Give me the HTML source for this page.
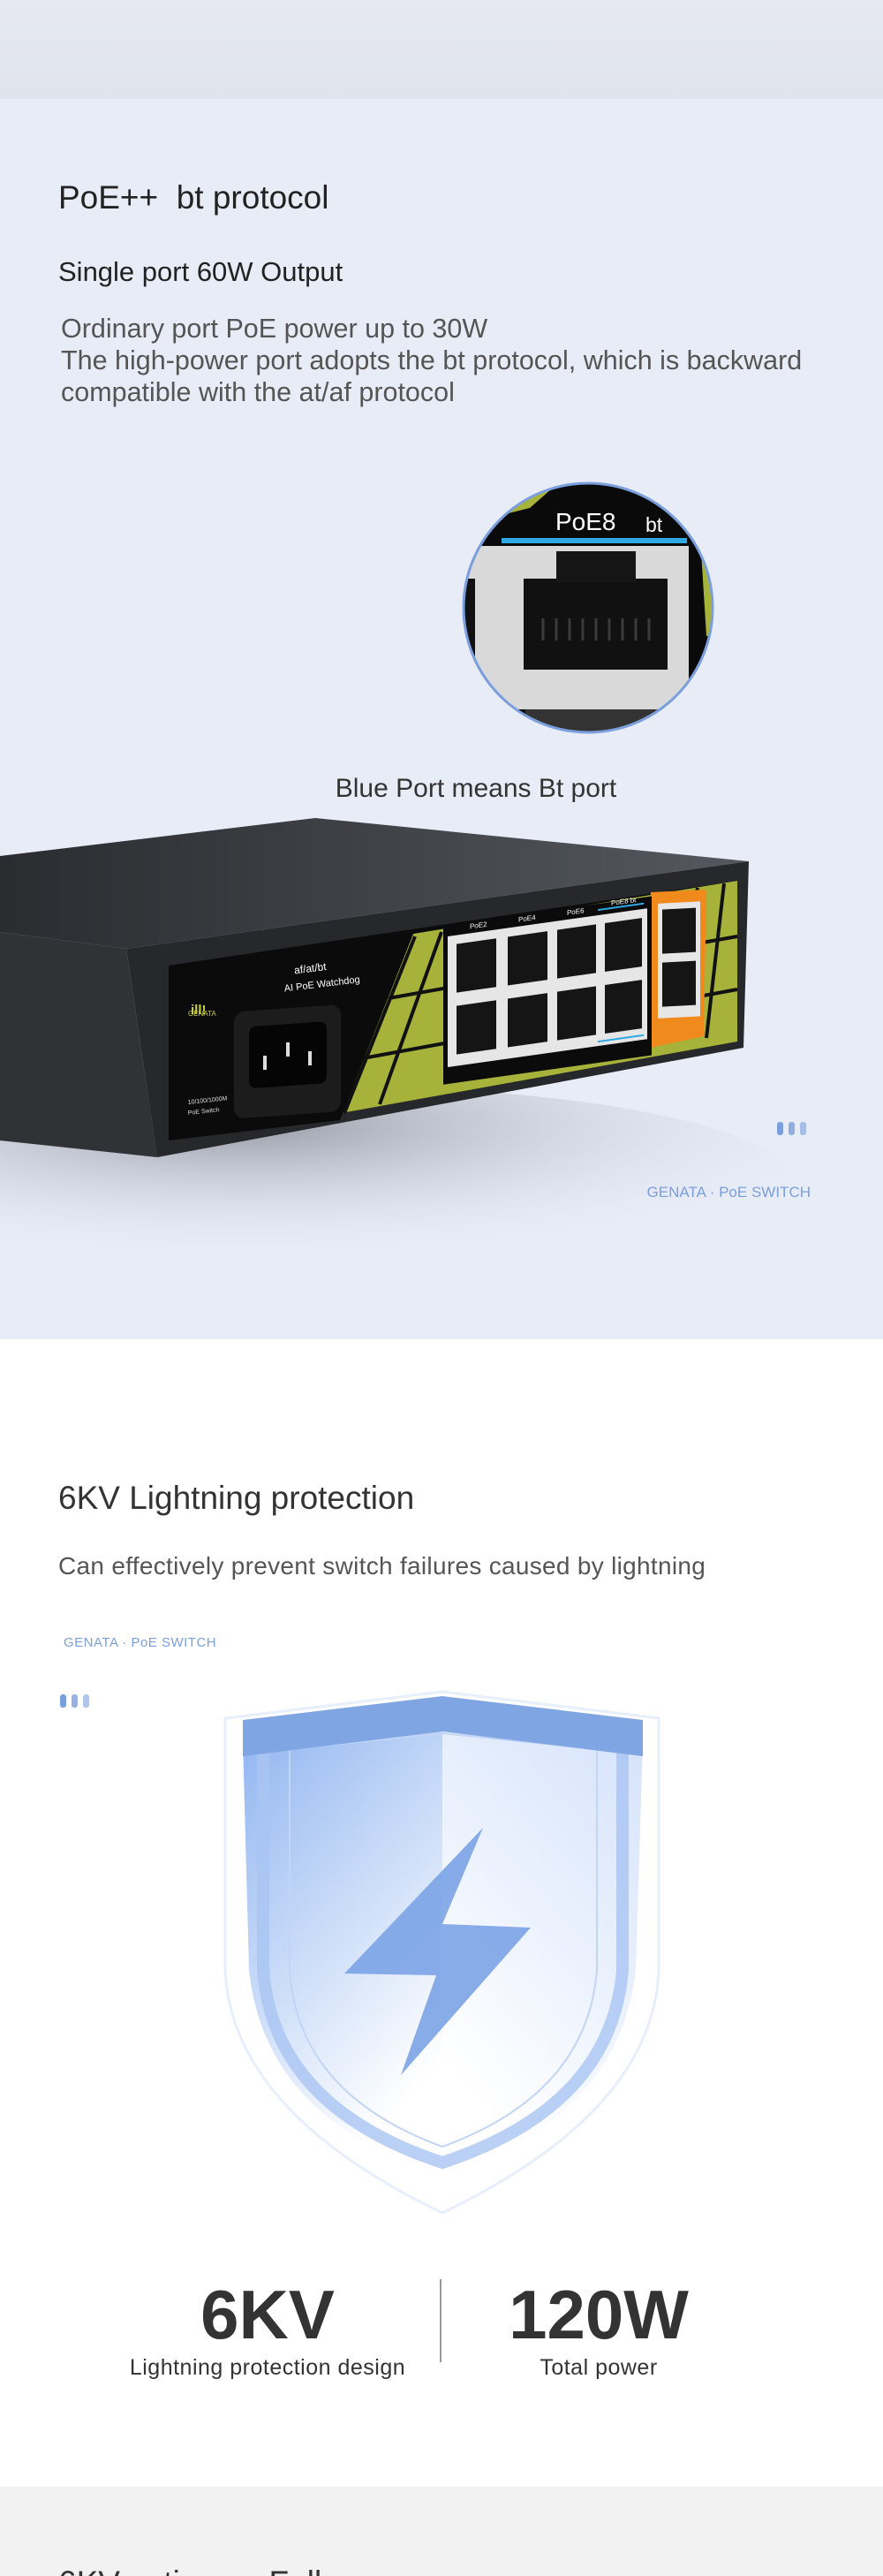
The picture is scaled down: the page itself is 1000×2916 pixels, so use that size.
<!DOCTYPE html>
<html><head><meta charset="utf-8"><style>
*{margin:0;padding:0;box-sizing:border-box}
body{width:1000px;height:2916px;position:relative;overflow:hidden;font-family:"Liberation Sans",sans-serif;background:#fff}
.a{position:absolute;white-space:nowrap}
</style></head><body>
<div class="a" style="left:0;top:0;width:1000px;height:112px;background:linear-gradient(#e6e9f1,#e0e4ed)"></div>
<div class="a" style="left:0;top:112px;width:1000px;height:1404px;background:#e8ecf6"></div>
<div class="a" style="left:66px;top:203px;font-size:37px;color:#222;">PoE++&nbsp; bt protocol</div>
<div class="a" style="left:66px;top:290px;font-size:31px;color:#222;">Single port 60W Output</div>
<div class="a" style="left:69px;top:354px;font-size:30.5px;line-height:36px;color:#555;">Ordinary port PoE power up to 30W<br>The high-power port adopts the bt protocol, which is backward<br>compatible with the at/af protocol</div>

<svg class="a" style="left:0;top:0" width="1000" height="1516">
<defs>
<clipPath id="c"><circle cx="666" cy="688" r="141"/></clipPath>
<linearGradient id="top" x1="0" y1="0" x2="1" y2="0"><stop offset="0" stop-color="#2a2c30"/><stop offset="1" stop-color="#55585e"/></linearGradient>
<radialGradient id="sh" cx="0.4" cy="0.2" r="0.7"><stop offset="0" stop-color="#8e939e" stop-opacity="0.9"/><stop offset="1" stop-color="#e8ecf6" stop-opacity="0"/></radialGradient>
</defs>
<g clip-path="url(#c)">
<rect x="520" y="540" width="300" height="300" fill="#0a0a0a"/>
<polygon points="540,540 640,540 600,575 540,590" fill="#a7b43a"/>
<polygon points="790,560 820,560 820,720 800,720" fill="#a7b43a"/>
<rect x="520" y="618" width="260" height="185" fill="#d9d9d9"/>
<rect x="520" y="655" width="18" height="110" fill="#111"/>
<rect x="593" y="655" width="163" height="103" fill="#111"/>
<rect x="630" y="624" width="90" height="35" fill="#151515"/>
<g stroke="#3a3a3a" stroke-width="3"><line x1="615" y1="700" x2="615" y2="725"/><line x1="630" y1="700" x2="630" y2="725"/><line x1="645" y1="700" x2="645" y2="725"/><line x1="660" y1="700" x2="660" y2="725"/><line x1="675" y1="700" x2="675" y2="725"/><line x1="690" y1="700" x2="690" y2="725"/><line x1="705" y1="700" x2="705" y2="725"/><line x1="720" y1="700" x2="720" y2="725"/><line x1="735" y1="700" x2="735" y2="725"/></g>
<rect x="595" y="803" width="160" height="30" fill="#333"/>
<rect x="568" y="609" width="210" height="6" fill="#2fa8e6"/>
<text x="629" y="600" font-size="28" fill="#fff" font-family="Liberation Sans">PoE8</text>
<text x="731" y="602" font-size="23" fill="#fff" font-family="Liberation Sans">bt</text>
</g>
<circle cx="666" cy="688" r="141" fill="none" stroke="#7a9fdc" stroke-width="3"/>
<text x="539" y="902" font-size="30" fill="#333" text-anchor="middle" font-family="Liberation Sans">Blue Port means Bt port</text>

<ellipse cx="380" cy="1340" rx="520" ry="110" fill="url(#sh)"/>
<polygon points="0,969 357,926 848,975 143,1074 0,1055" fill="url(#top)"/>
<polygon points="0,1055 143,1074 178,1310 0,1291" fill="#303236"/>
<polygon points="143,1074 848,975 842,1186 178,1310" fill="#26282b"/>
<polygon points="191,1093 835,997 835,1179 191,1291" fill="#0b0b0b"/>
<polygon points="450,1060 835,997 835,1179 370,1263" fill="#a6b23a"/>
<g stroke="#111" stroke-width="4" fill="none">
<line x1="440" y1="1130" x2="835" y2="1060"/><line x1="400" y1="1200" x2="835" y2="1120"/>
<line x1="470" y1="1060" x2="390" y2="1260"/><line x1="500" y1="1055" x2="430" y2="1250"/><line x1="790" y1="1005" x2="760" y2="1180"/><line x1="820" y1="1000" x2="800" y2="1175"/>
</g>
<polygon points="191,1093 470,1052 385,1268 191,1291" fill="#0b0b0b"/>
<rect x="265" y="1144" width="121" height="121" rx="12" fill="#1c1c1c" transform="skewY(-4) translate(0,20)"/>
<rect x="282" y="1162" width="88" height="70" rx="8" fill="#050505" transform="skewY(-4) translate(0,20)"/>
<g fill="#ddd"><rect x="298" y="1195" width="4" height="16"/><rect x="324" y="1180" width="4" height="16"/><rect x="349" y="1190" width="4" height="16"/></g>
<text x="216" y="1148" font-size="15" fill="#c8d040" font-family="Liberation Sans" font-weight="bold">ill!</text>
<text x="213" y="1150" font-size="8" fill="#c8d040" font-family="Liberation Sans">GENATA</text>
<text x="370" y="1098" font-size="12" fill="#fff" text-anchor="end" transform="rotate(-7 370 1098)" font-family="Liberation Sans">af/at/bt</text>
<text x="408" y="1112" font-size="11" fill="#fff" text-anchor="end" transform="rotate(-7 408 1112)" font-family="Liberation Sans">AI PoE Watchdog</text>
<text x="213" y="1250" font-size="7" fill="#ddd" transform="rotate(-6 213 1250)" font-family="Liberation Sans">10/100/1000M</text>
<text x="213" y="1262" font-size="7" fill="#ddd" transform="rotate(-6 213 1262)" font-family="Liberation Sans">PoE Switch</text>
<polygon points="737,1010 800,1007 797,1173 737,1186" fill="#f08a1c"/>
<g transform="translate(507,1055) skewY(-8)">
<rect x="-5" y="-8" width="236" height="180" fill="#0b0b0b"/>
<rect x="0" y="5" width="226" height="148" fill="#e6e6e6"/>
<g fill="#151515">
<rect x="10" y="15" width="45" height="55"/><rect x="68" y="15" width="45" height="55"/><rect x="124" y="15" width="44" height="55"/><rect x="178" y="15" width="42" height="55"/>
<rect x="10" y="85" width="45" height="55"/><rect x="68" y="85" width="45" height="55"/><rect x="124" y="85" width="44" height="55"/><rect x="178" y="85" width="42" height="55"/>
</g>
<rect x="170" y="-2" width="52" height="2" fill="#2fa8e6"/>
<rect x="170" y="147" width="52" height="2" fill="#2fa8e6"/>
<g font-size="8" fill="#fff" font-family="Liberation Sans"><text x="25" y="0">PoE2</text><text x="80" y="0">PoE4</text><text x="135" y="0">PoE6</text><text x="185" y="-4">PoE8 bt</text></g>
</g>
<g transform="translate(742,1018) skewY(-3)">
<rect x="3" y="5" width="48" height="130" fill="#e6e6e6"/>
<rect x="8" y="12" width="38" height="50" fill="#151515"/><rect x="8" y="72" width="38" height="50" fill="#151515"/>
</g>
<g fill="#7a9fdc"><rect x="880" y="1270" width="7" height="15" rx="3"/><rect x="893" y="1270" width="7" height="15" rx="3" opacity="0.8"/><rect x="906" y="1270" width="7" height="15" rx="3" opacity="0.6"/></g>
<text x="918" y="1355" font-size="17" fill="#7a9fdc" text-anchor="end" font-family="Liberation Sans">GENATA · PoE SWITCH</text>
</svg>

<div class="a" style="left:66px;top:1675px;font-size:37px;color:#333;">6KV Lightning protection</div>
<div class="a" style="left:66px;top:1757px;font-size:28px;color:#555;letter-spacing:0.3px">Can effectively prevent switch failures caused by lightning</div>
<div class="a" style="left:72px;top:1851px;font-size:15px;color:#7a9fdc;letter-spacing:0.5px">GENATA · PoE SWITCH</div>
<svg class="a" style="left:0;top:1900px" width="1000" height="916">
<defs>
<linearGradient id="lf" x1="0" y1="0" x2="0.5" y2="1"><stop offset="0" stop-color="#8fb4f0"/><stop offset="1" stop-color="#fff"/></linearGradient>
<linearGradient id="rf" x1="1" y1="0" x2="0.5" y2="1"><stop offset="0" stop-color="#d4e2fb"/><stop offset="1" stop-color="#fff"/></linearGradient>
</defs>
<g fill="#7a9fdc"><rect x="68" y="18" width="7" height="15" rx="3"/><rect x="81" y="18" width="7" height="15" rx="3" opacity="0.8"/><rect x="94" y="18" width="7" height="15" rx="3" opacity="0.6"/></g>
<path d="M255,45 L501,15 L746,45 L746,330 Q740,490 501,605 Q262,490 255,330 Z" fill="none" stroke="#e8effc" stroke-width="3"/>
<path d="M275,70 L501,47 L501,562 Q300,500 282,330 Z" fill="url(#lf)"/>
<path d="M728,70 L501,47 L501,562 Q700,500 720,330 Z" fill="url(#rf)"/>
<path d="M298,70 L298,330 Q310,485 501,548 Q692,485 705,330 L705,70" fill="none" stroke="#a9c4f2" stroke-width="14" opacity="0.8"/>
<path d="M328,80 L501,62 L676,80 L676,330 Q665,470 501,530 Q337,470 328,330 Z" fill="none" stroke="#c2d5f6" stroke-width="2"/>
<polygon points="275,47 501,20 728,47 728,88 501,60 275,88" fill="#7fa6e2"/>
<polygon points="547,169 501,278 601,282 454,449 494,336 390,334" fill="#7ba3e6" opacity="0.9"/>
<text x="303" y="747" font-size="78" font-weight="bold" fill="#333" text-anchor="middle" font-family="Liberation Sans">6KV</text>
<text x="303" y="788" font-size="25" fill="#333" text-anchor="middle" font-family="Liberation Sans" letter-spacing="0.5">Lightning protection design</text>
<rect x="498" y="680" width="2" height="94" fill="#999"/>
<text x="678" y="747" font-size="78" font-weight="bold" fill="#333" text-anchor="middle" font-family="Liberation Sans">120W</text>
<text x="678" y="788" font-size="25" fill="#333" text-anchor="middle" font-family="Liberation Sans" letter-spacing="0.5">Total power</text>
</svg>
<div class="a" style="left:0;top:2815px;width:1000px;height:101px;background:#f2f2f2;overflow:hidden">
<div class="a" style="left:66px;top:88px;font-size:37px;color:#333">6KV active&nbsp;&nbsp;&nbsp;&nbsp;&nbsp;&nbsp;Full</div>
</div>
</body></html>
